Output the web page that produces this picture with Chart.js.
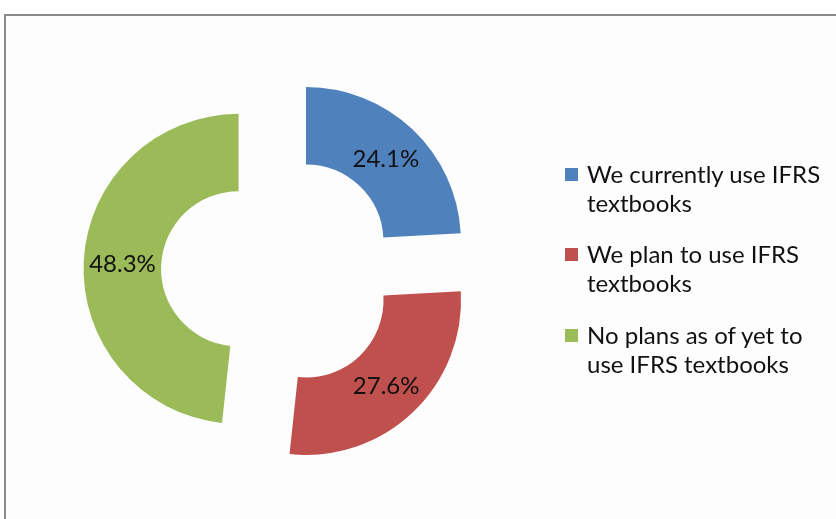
<!DOCTYPE html>
<html lang="en">
<head>
    <meta charset="UTF-8">
    <title>IFRS textbooks</title>
    <script src="https://cdn.jsdelivr.net/npm/chart.js"></script>
    <style>
        body { margin: 0; background: #fff; }
        #wrap { position: relative; width: 836px; height: 519px; overflow: hidden; }
        #frame {
            position: absolute; left: 4px; top: 14px; width: 900px; height: 600px;
            border-left: 2px solid #8a8a8a; border-top: 2px solid #8a8a8a;
            background: #fdfdfd;
        }
        #chart-box { position: absolute; left: 0; top: 0; width: 836px; height: 519px; }
        #legend { position: absolute; left: 565px; top: 0; font-family: Lato, sans-serif; font-size: 24px; color: #111; }
        .item { position: absolute; left: 0; padding-left: 22px; line-height: 29px; white-space: nowrap; }
        .swatch { position: absolute; left: 0; top: 9px; width: 13px; height: 13px; }
    </style>
</head>
<body>
<div id="wrap">
    <div id="frame"></div>
    <div id="chart-box"><canvas id="donut"></canvas></div>
    <div id="legend"></div>
</div>
<script>
    const categories = ['We currently use IFRS textbooks', 'We plan to use IFRS textbooks', 'No plans as of yet to use IFRS textbooks'];
    const legendLines = [['We currently use IFRS', 'textbooks'], ['We plan to use IFRS', 'textbooks'], ['No plans as of yet to', 'use IFRS textbooks']];
    const shares = [24.1, 27.6, 48.3];
    const colors = ['#4f81bd', '#c0504d', '#9bbb59'];

    // chart.js "offset" also grows the radius of wide slices, so explode them by hand
    const pull = 40;
    const explode = {
        id: 'explode',
        afterDatasetsUpdate(chart) {
            chart.getDatasetMeta(0).data.forEach(arc => {
                const mid = (arc.startAngle + arc.endAngle) / 2;
                arc.x += Math.cos(mid) * pull;
                arc.y += Math.sin(mid) * pull;
            });
        }
    };

    const sliceLabels = {
        id: 'sliceLabels',
        afterDatasetsDraw(chart) {
            const ctx = chart.ctx;
            ctx.save();
            ctx.font = '24px Lato, sans-serif';
            ctx.fillStyle = '#111';
            ctx.textAlign = 'center';
            ctx.textBaseline = 'middle';
            chart.getDatasetMeta(0).data.forEach((arc, i) => {
                const mid = (arc.startAngle + arc.endAngle) / 2;
                const r = (arc.innerRadius + arc.outerRadius) / 2;
                ctx.fillText(shares[i].toFixed(1) + '%', arc.x + Math.cos(mid) * r, arc.y + Math.sin(mid) * r + 2);
            });
            ctx.restore();
        }
    };

    new Chart(document.getElementById('donut'), {
        type: 'doughnut',
        data: {
            labels: categories,
            datasets: [{
                data: shares,
                backgroundColor: colors,
                borderWidth: 0
            }]
        },
        options: {
            responsive: true,
            maintainAspectRatio: false,
            animation: false,
            events: [],
            radius: 155,
            cutout: '50%',
            layout: { padding: { left: 0, right: 279, top: 23, bottom: 0 } },
            plugins: { legend: { display: false }, tooltip: { enabled: false } }
        },
        plugins: [explode, sliceLabels]
    });

    const legend = document.getElementById('legend');
    const itemTops = [159, 239, 320];
    legendLines.forEach((lines, i) => {
        const item = document.createElement('div');
        item.className = 'item';
        item.style.top = itemTops[i] + 'px';
        item.innerHTML = '<span class="swatch" style="background:' + colors[i] + '"></span>' + lines.join('<br>');
        legend.appendChild(item);
    });
</script>
</body>
</html>
